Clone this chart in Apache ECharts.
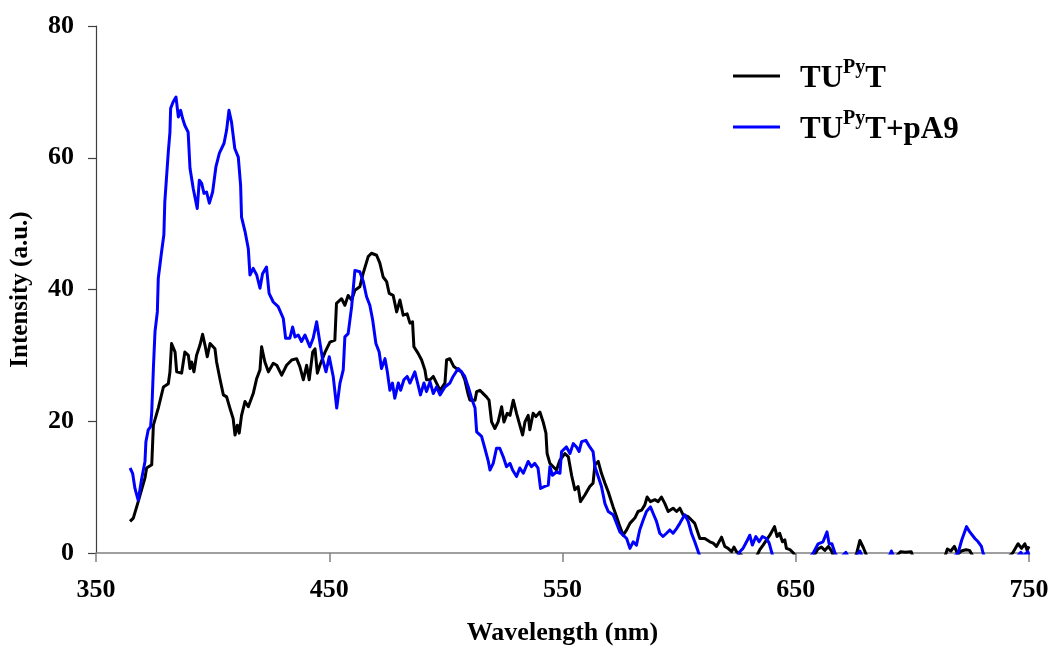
<!DOCTYPE html>
<html>
<head>
<meta charset="utf-8">
<script src="https://cdn.jsdelivr.net/npm/echarts@6/dist/echarts.min.js"></script>
<style>
  html, body { margin: 0; padding: 0; background: #ffffff; }
  #chart { width: 1050px; height: 650px; }
</style>
</head>
<body>
<div id="chart"></div>
<script>
// Fluorescence emission spectra: wavelength (nm) vs intensity (a.u.)
const xTicks = [350, 450, 550, 650, 750];
const yTicks = [0, 20, 40, 60, 80];

// TUPyT alone
const tuptWavelength = [
  364.6, 366, 368.1, 371, 371.7, 373.9, 374.6, 376.7, 378.9, 381, 381.7, 382.4, 383.9, 384.6, 386.7,
  388.1, 389.6, 390.3, 391, 392, 393.1, 394.6, 395.7, 396.7, 397.7, 398.9, 401, 401.7, 403.1, 404.6,
  406, 407.4, 408.8, 409.6, 410.6, 411.4, 412.4, 413.9, 415.3, 417.4, 418.9, 420.3, 421, 422.4, 423.9,
  426, 427.5, 429.6, 431.7, 433.9, 436, 437.4, 438.9, 440.3, 441.4, 442.9, 443.9, 444.9, 446, 448.2,
  450.3, 452.4, 453.1, 455.3, 456.7, 458.1, 459.6, 461, 463.1, 464.5, 466.7, 468.1, 470.3, 471.7, 473.1,
  474.6, 475.7, 477.4, 478.9, 480.3, 481.7, 483.4, 484.6, 485.7, 486.3, 488.1, 489.6, 491, 491.7, 493.2,
  494.6, 496, 497.5, 499.6, 500.3, 501.7, 503.4, 505.3, 506.7, 508.1, 509.6, 510.3, 512.5, 513.2, 514.6,
  516, 517.4, 518.5, 519.6, 521, 522.4, 523.9, 524.9, 526.3, 527.5, 528.9, 530.3, 531.7, 532.9, 533.9,
  535.3, 536, 537.4, 538.6, 540.3, 541.7, 542.9, 543.4, 544.6, 546, 547.4, 548.9, 551, 552.5, 553.9,
  555.3, 556.7, 557.7, 559.6, 561.7, 563.1, 563.9, 565.3, 566.7, 568.2, 569.6, 571.7, 573.2, 574.6, 576,
  577.5, 578.9, 581, 582.4, 583.9, 585.3, 586.3, 587.7, 589.6, 591, 592.4, 593.9, 595.3, 597.4, 598.9,
  600.3, 601.7, 603.9, 605.3, 606.7, 608.9, 611, 613.2, 614.6, 616, 618.2, 619.6, 621, 622.5, 623.5,
  624.6, 626.7, 630, 633.5, 634.6, 636, 637.5, 638.9, 640.9, 642, 643.1, 644.3, 645.3, 646, 647.5,
  649, 652, 656, 658, 659.5, 661, 662.5, 664, 665.5, 667, 672, 676, 677.5, 679, 680.5,
  686, 693, 695, 697, 699.5, 701, 708, 714, 715, 716.5, 718, 719.5, 721, 723, 724.5,
  726, 733, 740, 743, 745.3, 746.8, 748.2, 749.2, 750
];
const tuptIntensity = [
  4.8, 5.3, 7.8, 11.4, 12.9, 13.4, 19.4, 22, 25.2, 25.7, 27.5, 31.8, 30.5, 27.5, 27.3,
  30.5, 30, 28, 29, 27.5, 30, 31.6, 33.2, 31.6, 29.8, 31.8, 31, 29, 26.5, 24,
  23.7, 22, 20.4, 17.9, 19.4, 18.2, 20.9, 23, 22.2, 24.2, 26.5, 27.8, 31.3, 29, 27.5,
  28.8, 28.5, 27, 28.5, 29.3, 29.5, 28.3, 26.3, 28.5, 26.3, 30.5, 31, 27.3, 28.5, 30.5,
  32, 32.3, 37.9, 38.6, 37.6, 39.1, 38.4, 39.9, 40.4, 42.4, 45, 45.5, 45.2, 44, 41.9,
  41.2, 39.4, 39.1, 36.6, 38.4, 36.1, 36.3, 34.9, 35.1, 31.3, 30.3, 29.3, 27.8, 26.3, 26.3,
  26.8, 25.8, 24.7, 25.8, 29.3, 29.5, 28.3, 27.8, 27.5, 26.3, 24, 23.2, 23.2, 24.5, 24.7,
  24.2, 23.7, 23.2, 19.9, 18.9, 19.9, 22.2, 19.9, 21.2, 20.9, 23.2, 21.2, 19.4, 17.9, 19.9,
  20.9, 18.7, 21.2, 20.7, 21.4, 19.9, 18.2, 15.1, 13.6, 13.1, 12.6, 14.1, 15.1, 14.6, 11.8,
  9.6, 10.1, 7.8, 8.8, 10.1, 10.6, 13.4, 13.9, 12.1, 10.6, 9.3, 7, 5.5, 4, 2.7,
  3.5, 4.5, 5.3, 6.3, 6.5, 7.3, 8.5, 7.8, 8.1, 7.8, 8.5, 7.5, 6.3, 6.8, 6.3,
  6.8, 5.8, 5.5, 5, 4.5, 2.2, 2.2, 1.7, 1.5, 1, 2.4, 1, 0.7, 0.2, 0.9,
  0.2, -0.3, -2, -0.3, 0.5, 1.2, 2, 2.7, 4, 2.5, 3, 1.7, 2, 0.7, 0.5,
  0, -2, -1.5, -0.3, 0.6, 0.9, 0.4, 1.0, 0.2, -1.5, -2, -0.2, 1.9, 0.8, -0.5,
  -2, -0.5, 0.2, 0.1, 0.2, -1.5, -2, -0.5, 0.6, 0.3, 1.0, -0.2, 0.3, 0.5, 0.4,
  -0.5, -2, -1, 0, 1.4, 0.7, 1.4, 0.4, 1.0
];

// TUPyT with pA9
const pa9Wavelength = [
  364.6, 365.7, 366.7, 368.1, 369.6, 371, 371.4, 372.4, 373.4, 373.9, 374.6, 375.3, 376.3, 376.7, 378.1,
  379.1, 379.5, 381, 381.7, 382, 383.1, 384.3, 385.3, 386.3, 387.1, 388.1, 389.5, 390.3, 391.7, 393.4,
  394.3, 395.3, 396.3, 397.4, 398.6, 400, 401.4, 402.9, 404.9, 406, 407, 408.1, 409.5, 411, 412,
  412.4, 413.9, 415.3, 416, 417.4, 418.9, 420.3, 421.4, 423.1, 424.2, 426, 428.1, 430.3, 431.3, 433.1,
  434.3, 435.3, 436.7, 438.1, 439.6, 441.7, 443.1, 444.6, 445.7, 447.1, 448.6, 450, 451.7, 453.2, 454.6,
  456, 456.7, 458.1, 459.6, 461, 463.1, 464.6, 466, 467.4, 468.6, 470, 471.4, 472.4, 473.9, 474.9,
  476, 477.1, 478.1, 479.6, 480.6, 482, 483.4, 484.6, 486.7, 488.1, 489.1, 490.6, 491.7, 493.2, 494.6,
  496, 497.5, 499.6, 501.7, 503.1, 505.3, 506.7, 508.1, 509.6, 511, 512.5, 513.2, 515.3, 516.7, 518.2,
  518.9, 520.3, 521.7, 523.1, 524.6, 526, 527.5, 528.6, 530.3, 531.7, 533.2, 535.3, 536.7, 538.1, 539.5,
  540.6, 542.4, 543.9, 544.6, 545.7, 547.4, 548.9, 549.6, 551.7, 553.2, 554.6, 556, 557.1, 558.2, 560,
  561.7, 563.1, 563.9, 565.3, 566.7, 568.2, 569.6, 571.7, 573.2, 574.6, 576, 577.5, 578.9, 580.3, 581.7,
  583.1, 584.6, 586, 587.7, 589.1, 590.3, 591.7, 593.1, 594.6, 596, 597.4, 598.9, 600.3, 602.4, 603.9,
  605.3, 606.7, 608.2, 610, 615, 620, 625, 626, 627.4, 628.9, 630.3, 631.4, 632.9, 634.3, 635.7,
  637.4, 638.6, 639.6, 641, 648, 654, 657.5, 659.6, 661.7, 663.4, 664.3, 665.5, 666.8, 668.5, 671.5,
  673, 676, 677.5, 679, 685, 690.5, 691, 692, 700, 710, 718, 719.6, 721.1, 723.2, 724.6,
  726.8, 728.2, 729.6, 730.3, 732, 740, 745, 746.5, 747.5, 749.5, 750
];
const pa9Intensity = [
  12.9, 12.1, 9.8, 8, 11.3, 13.9, 16.9, 18.7, 19.2, 21.4, 28, 33.6, 36.6, 41.7, 45.7,
  48.3, 53.3, 60.9, 63.9, 67.5, 68.5, 69.2, 66.2, 67.2, 66, 64.9, 63.9, 58.4, 55.3, 52.3,
  56.6, 56.1, 54.6, 54.8, 53.1, 54.8, 58.6, 60.7, 62.2, 64.2, 67.2, 65.4, 61.4, 60.1, 55.8,
  51, 48.8, 46.2, 42.2, 43.2, 42.2, 40.2, 42.4, 43.4, 39.4, 38.1, 37.4, 35.6, 32.6, 32.6,
  34.3, 32.8, 33.1, 32.1, 33.1, 31.3, 32.6, 35.1, 32.6, 29.5, 27.5, 29.8, 26.8, 22, 25.8,
  27.8, 32.8, 33.3, 37.4, 42.9, 42.7, 41.2, 38.9, 37.6, 35.4, 31.8, 30.5, 28, 29.5, 27.5,
  24.7, 25.8, 23.5, 25.8, 24.7, 26.3, 26.8, 25.8, 27.5, 25.5, 24, 25.8, 24.5, 26, 24.2,
  25.2, 24, 25.2, 25.8, 26.8, 28, 27.5, 26.8, 25.2, 23.5, 22, 18.4, 17.7, 15.9, 13.9,
  12.6, 13.6, 15.9, 15.9, 14.6, 13.1, 13.6, 12.6, 11.6, 12.9, 12.1, 13.9, 13.1, 13.6, 12.9,
  9.8, 10.1, 10.3, 13.1, 11.8, 12.3, 12.1, 15.4, 16.1, 15.1, 16.6, 16.1, 15.4, 16.9, 17.1,
  16.1, 15.4, 13.1, 11.6, 10.1, 7.5, 6.3, 5.8, 4.5, 3.2, 2.7, 2.2, 0.7, 1.7, 1.2,
  3.5, 5, 6.3, 7, 5.8, 4.8, 3, 2.5, 3, 3.5, 3, 3.7, 4.5, 5.8, 4.8,
  3, 1.7, 0.2, -1.5, -2.5, -2, -0.5, 0.2, 0.7, 1.7, 2.7, 1.2, 2.5, 1.7, 2.5,
  2.2, 1.5, 0.2, -1.5, -2.5, -1.5, 0, 1.4, 1.7, 3.2, 1.4, 1.4, 0, -1, 0.1,
  -1, -0.5, 0.3, -1, -2, -0.2, 0.3, -0.5, -2, -1.5, -0.5, 0, 1.9, 4.0, 3.2,
  2.2, 1.7, 1.0, 0, -1.5, -2, -0.5, 0.1, -0.5, 0.2, -0.3
];

const seriesNames = ['TUPyT', 'TUPyT+pA9'];
const seriesColors = ['#000000', '#0000ff'];

function pairs(xs, ys) {
  return xs.map((x, i) => [x, ys[i]]);
}

const FONT = '"Liberation Serif", "Times New Roman", serif';

const chart = echarts.init(document.getElementById('chart'), null, { renderer: 'canvas' });

chart.setOption({
  animation: false,
  backgroundColor: '#ffffff',
  grid: {
    left: 96, right: 21, top: 26, bottom: 97,
    containLabel: false,
    outerBoundsMode: 'none'
  },
  legend: {
    orient: 'vertical',
    left: 733,
    top: 58,
    padding: 0,
    itemWidth: 47,
    itemHeight: 3,
    itemGap: 15,
    icon: 'rect',
    data: seriesNames.map((n, i) => ({ name: n, itemStyle: { color: seriesColors[i] } })),
    formatter: function (name) {
      if (name === 'TUPyT') return '{a|TU}{s|Py}{a|T}';
      return '{a|TU}{s|Py}{a|T+pA9}';
    },
    textStyle: {
      padding: [0, 0, 0, 15],
      rich: {
        a: { fontFamily: FONT, fontWeight: 'bold', fontSize: 31, color: '#000', lineHeight: 36, verticalAlign: 'bottom' },
        s: { fontFamily: FONT, fontWeight: 'bold', fontSize: 20, color: '#000', lineHeight: 36, verticalAlign: 'top', padding: [0, 0, 12, 0] }
      }
    }
  },
  xAxis: {
    type: 'value',
    min: 350,
    max: 750,
    interval: 100,
    name: 'Wavelength (nm)',
    nameLocation: 'middle',
    nameGap: 67,
    nameTextStyle: { fontFamily: FONT, fontWeight: 'bold', fontSize: 26, color: '#000' },
    axisLine: { show: true, onZero: false, lineStyle: { color: '#808080', width: 1.5 } },
    axisTick: { show: true, inside: false, length: 9, lineStyle: { color: '#808080', width: 1.5 } },
    axisLabel: {
      margin: 24,
      fontFamily: FONT, fontWeight: 'bold', fontSize: 26, color: '#000',
      customValues: xTicks
    },
    splitLine: { show: false }
  },
  yAxis: {
    type: 'value',
    min: 0,
    max: 80,
    interval: 20,
    name: 'Intensity (a.u.)',
    nameLocation: 'middle',
    nameGap: 63,
    nameRotate: 90,
    nameTextStyle: { fontFamily: FONT, fontWeight: 'bold', fontSize: 25, color: '#000' },
    axisLine: { show: true, lineStyle: { color: '#404040', width: 1.2 } },
    axisTick: { show: true, inside: false, length: 8, lineStyle: { color: '#404040', width: 1.2 } },
    axisLabel: {
      margin: 22,
      fontFamily: FONT, fontWeight: 'bold', fontSize: 26, color: '#000',
      customValues: yTicks
    },
    splitLine: { show: false }
  },
  series: [
    {
      name: seriesNames[0],
      type: 'line',
      data: pairs(tuptWavelength, tuptIntensity),
      symbol: 'none',
      clip: true,
      lineStyle: { color: seriesColors[0], width: 3, join: 'round' },
      itemStyle: { color: seriesColors[0] },
      z: 2
    },
    {
      name: seriesNames[1],
      type: 'line',
      data: pairs(pa9Wavelength, pa9Intensity),
      symbol: 'none',
      clip: true,
      lineStyle: { color: seriesColors[1], width: 3, join: 'round' },
      itemStyle: { color: seriesColors[1] },
      z: 3
    }
  ]
});
</script>
</body>
</html>
